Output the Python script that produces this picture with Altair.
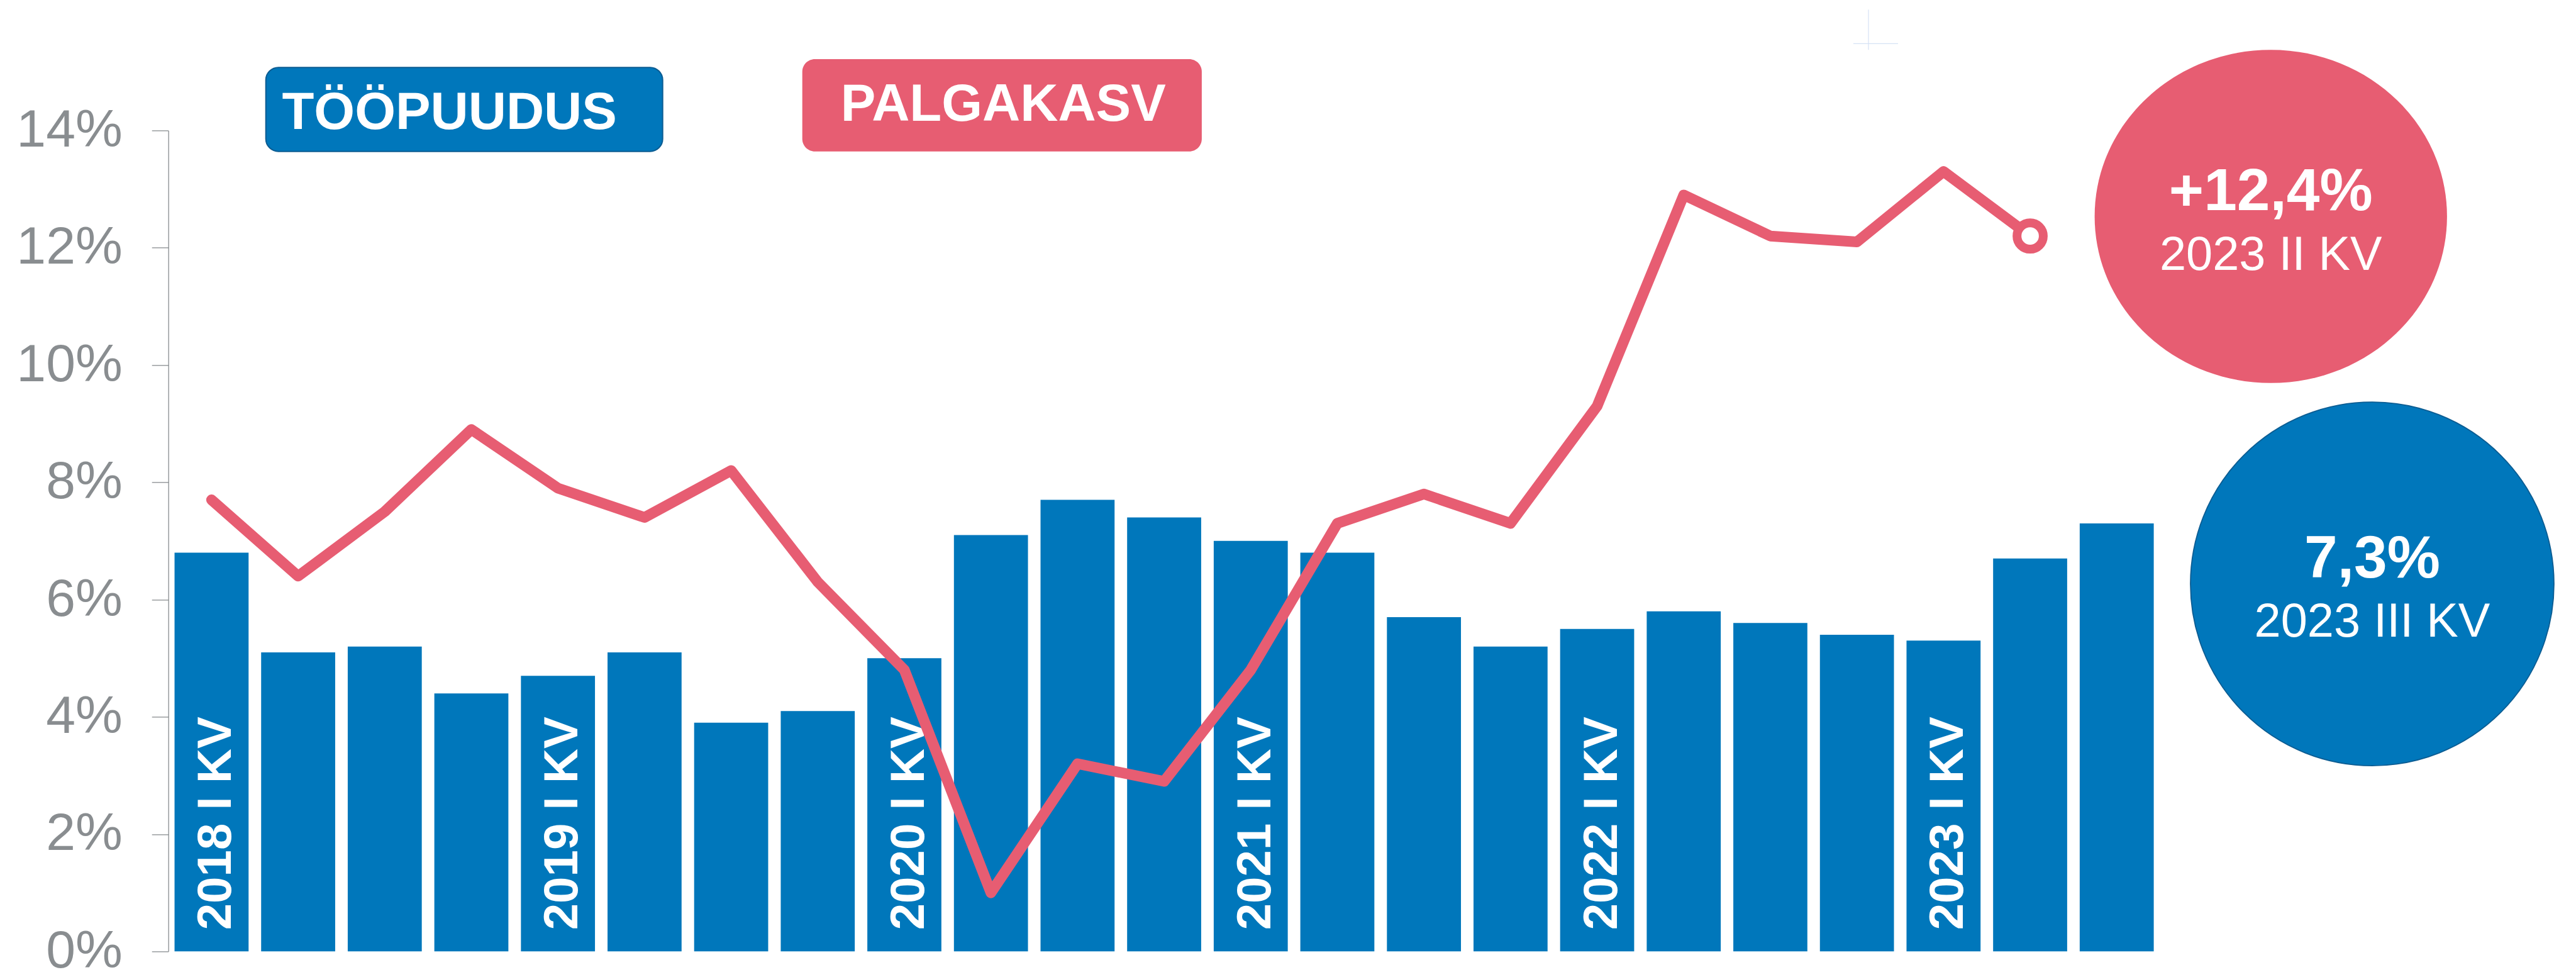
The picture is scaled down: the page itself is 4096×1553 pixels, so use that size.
import altair as alt
import pandas as pd

S = 0.881  # reference -> window scale

# ---------------- data ----------------
years = [2018, 2019, 2020, 2021, 2022, 2023]
romans = ["I", "II", "III", "IV"]
quarters = [f"{y} {r} KV" for y in years for r in romans][:23]  # up to 2023 III KV

unemployment = [6.8, 5.1, 5.2, 4.4, 4.7, 5.1, 3.9, 4.1, 5.0, 7.1, 7.7, 7.4,
                7.0, 6.8, 5.7, 5.2, 5.5, 5.8, 5.6, 5.4, 5.3, 6.7, 7.3]
wage_growth = [7.7, 6.4, 7.5, 8.9, 7.9, 7.4, 8.2, 6.3, 4.8, 1.0, 3.2, 2.9,
               4.8, 7.3, 7.8, 7.3, 9.3, 12.9, 12.2, 12.1, 13.3, 12.2]
bar_labels = ["2018 I KV", "2019 I KV", "2020 I KV", "2021 I KV", "2022 I KV", "2023 I KV"]
y_ticks = [0, 2, 4, 6, 8, 10, 12, 14]

legend_texts = ["TÖÖPUUDUS", "PALGAKASV"]
callout_red = ["+12,4%", "2023 II KV"]
callout_blue = ["7,3%", "2023 III KV"]

BLUE = "#0077BB"
RED = "#E75D72"
GREY = "#898D90"
FONT = "Liberation Sans"

df_bars = pd.DataFrame({
    "quarter": quarters,
    "value": unemployment,
    "label": [q if q in bar_labels else "" for q in quarters],
    "base": [0.0] * len(quarters),
})
df_line = pd.DataFrame({"quarter": quarters[:len(wage_growth)], "value": wage_growth})
df_last = df_line.tail(1)
one = pd.DataFrame({"k": [0]})

# ---------------- scales ----------------
W = 3594.6 * S
H = 14 * 105.8 * S
X0 = 303.8   # plot left in reference px
Y0 = 235.4   # plot top in reference px


def px(v):
    return (v - X0) * S


def py(v):
    return (v - Y0) * S


xscale = alt.Scale(domain=quarters, paddingInner=0.145, paddingOuter=0.0717)
yscale = alt.Scale(domain=[0, 14], nice=False, zero=True)

x_enc = alt.X("quarter:N", scale=xscale, axis=None, sort=quarters)

bars = alt.Chart(df_bars).mark_bar(color=BLUE).encode(
    x=x_enc,
    y=alt.Y("value:Q", scale=yscale, axis=alt.Axis(
        values=y_ticks, labelExpr="datum.value + '%'", title=None, grid=False,
        labelFont=FONT, labelFontSize=95.5 * S, labelColor=GREY,
        labelPadding=47, tickSize=30 * S, tickColor=GREY, tickWidth=1.3,
        domainColor=GREY, domainWidth=1.3)),
)

bar_text = alt.Chart(df_bars).transform_filter("datum.label != ''").mark_text(
    angle=270, align="left", baseline="alphabetic", dx=34, dy=31,
    color="white", font=FONT, fontWeight="bold", fontSize=86.6 * S,
).encode(
    x=x_enc,
    y=alt.Y("base:Q", scale=yscale),
    text="label:N",
)

line = alt.Chart(df_line).mark_line(
    color=RED, strokeWidth=17, strokeCap="round", strokeJoin="round"
).encode(
    x=x_enc,
    y=alt.Y("value:Q", scale=yscale),
)

last_pt = alt.Chart(df_last).mark_point(
    shape="circle", filled=True, fill="white", stroke=RED, strokeWidth=14,
    size=(47.4 * S) ** 2, opacity=1,
).encode(
    x=x_enc,
    y=alt.Y("value:Q", scale=yscale),
)

# ---------------- legend boxes ----------------
blue_box = alt.Chart(one).mark_rect(
    color=BLUE, cornerRadius=20, stroke="#0B5C92", strokeWidth=2
).encode(
    x=alt.value(px(479.8)), x2=alt.value(px(1196)),
    y=alt.value(py(121.7)), y2=alt.value(py(273.2)),
)
blue_box_text = alt.Chart(one).mark_text(
    text=legend_texts[0], color="white", font=FONT, fontWeight="bold",
    fontSize=94.6 * S, align="center", baseline="alphabetic",
).encode(x=alt.value(px(811.2)), y=alt.value(py(232.3)))

red_box = alt.Chart(one).mark_rect(color=RED, cornerRadius=20).encode(
    x=alt.value(px(1448)), x2=alt.value(px(2169)),
    y=alt.value(py(106.8)), y2=alt.value(py(273.2)),
)
red_box_text = alt.Chart(one).mark_text(
    text=legend_texts[1], color="white", font=FONT, fontWeight="bold",
    fontSize=94.6 * S, align="center", baseline="alphabetic",
).encode(x=alt.value(px(1810.7)), y=alt.value(py(218.1)))

# ---------------- callout circles ----------------
ellipse_path = "M -1 0 A 1 0.945 0 1 0 1 0 A 1 0.945 0 1 0 -1 0 Z"
red_circle = alt.Chart(one).mark_point(
    shape=ellipse_path, filled=True, fill=RED, opacity=1, strokeWidth=0,
    size=(636 * S) ** 2,
).encode(x=alt.value(px(4098.5)), y=alt.value(py(390.4)))

red_t1 = alt.Chart(one).mark_text(
    text=callout_red[0], color="white", font=FONT, fontWeight="bold",
    fontSize=107.5 * S, align="center", baseline="alphabetic",
).encode(x=alt.value(px(4098.5)), y=alt.value(py(379)))
red_t2 = alt.Chart(one).mark_text(
    text=callout_red[1], color="white", font=FONT,
    fontSize=86 * S, align="center", baseline="alphabetic",
).encode(x=alt.value(px(4098.5)), y=alt.value(py(486.6)))

blue_circle = alt.Chart(one).mark_point(
    shape="circle", filled=True, fill=BLUE, stroke="#0B5C92", strokeWidth=1.8,
    opacity=1, size=(656 * S) ** 2,
).encode(x=alt.value(px(4281.5)), y=alt.value(py(1053.5)))

blue_t1 = alt.Chart(one).mark_text(
    text=callout_blue[0], color="white", font=FONT, fontWeight="bold",
    fontSize=107.5 * S, align="center", baseline="alphabetic",
).encode(x=alt.value(px(4281.5)), y=alt.value(py(1041.9)))
blue_t2 = alt.Chart(one).mark_text(
    text=callout_blue[1], color="white", font=FONT,
    fontSize=86 * S, align="center", baseline="alphabetic",
).encode(x=alt.value(px(4281.5)), y=alt.value(py(1148.5)))

# faint crosshair artefact at the top
cross_v = alt.Chart(one).mark_rule(color="#D6E2F5", strokeWidth=1.2).encode(
    x=alt.value(px(3372.3)), y=alt.value(py(17.3)), y2=alt.value(py(90)))
cross_h = alt.Chart(one).mark_rule(color="#D6E2F5", strokeWidth=1.2).encode(
    x=alt.value(px(3345)), x2=alt.value(px(3425.7)), y=alt.value(py(78.7)))

chart = alt.layer(
    bars, bar_text, line, last_pt,
    blue_box, blue_box_text, red_box, red_box_text,
    red_circle, red_t1, red_t2, blue_circle, blue_t1, blue_t2,
    cross_v, cross_h,
).properties(
    width=W, height=H,
    autosize=alt.AutoSizeParams(type="none"),
    padding={"left": X0 * S - 8, "top": Y0 * S - 8, "right": 650, "bottom": 32},
    background="white",
).configure_view(stroke=None)

chart.save("out.html", embed_options={"renderer": "svg", "actions": False})
